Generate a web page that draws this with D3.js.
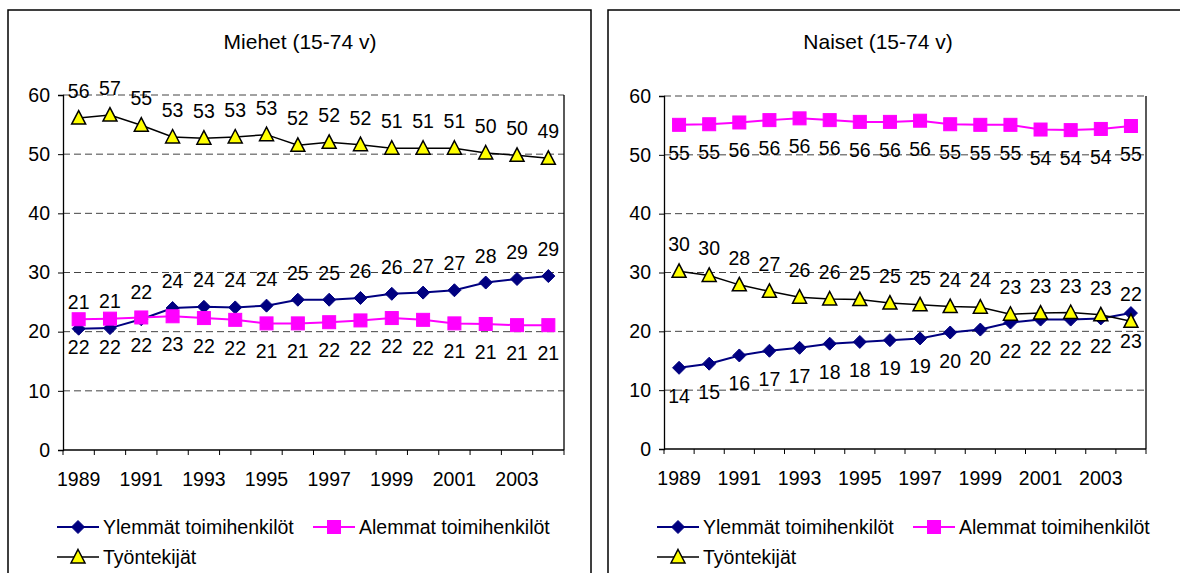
<!DOCTYPE html>
<html><head><meta charset="utf-8">
<script src="https://cdn.jsdelivr.net/npm/d3@7"></script>
<style>
html,body{margin:0;padding:0;background:#fff;}
svg{display:block;font-family:"Liberation Sans",Arial,sans-serif;}
</style></head>
<body>
<svg id="c" width="1180" height="573"></svg>
<script>
const years = [1989,1990,1991,1992,1993,1994,1995,1996,1997,1998,1999,2000,2001,2002,2003,2004];
const yearTickLabels = [1989,1991,1993,1995,1997,1999,2001,2003];
const yTicks = [0,10,20,30,40,50,60];
const seriesNames = ["Ylemmät toimihenkilöt","Alemmat toimihenkilöt","Työntekijät"];
const chartTitles = ["Miehet (15-74 v)","Naiset (15-74 v)"];

const menYlemmat = [20.5,20.6,22.1,24.0,24.2,24.1,24.4,25.4,25.4,25.7,26.4,26.6,27.0,28.3,28.9,29.4];
const menAlemmat = [22.1,22.2,22.4,22.6,22.3,22.0,21.4,21.4,21.6,21.9,22.3,22.0,21.4,21.3,21.1,21.1];
const menTyontekijat = [56.1,56.6,54.9,52.9,52.7,52.9,53.3,51.5,52.0,51.6,51.0,51.0,51.0,50.2,49.8,49.3];

const womenYlemmat = [13.8,14.5,15.9,16.7,17.2,17.9,18.2,18.5,18.8,19.8,20.3,21.5,22.0,22.0,22.2,23.1];
const womenAlemmat = [55.1,55.2,55.5,55.9,56.2,55.9,55.6,55.6,55.8,55.2,55.1,55.1,54.3,54.2,54.4,54.9];
const womenTyontekijat = [30.2,29.5,27.9,26.8,25.8,25.5,25.4,24.8,24.5,24.2,24.1,22.9,23.1,23.2,22.8,21.7];

const styles = [
  {color:"#000080", marker:"diamond", fill:"#000080", stroke:"#000080", width:2},
  {color:"#FF00FF", marker:"square", fill:"#FF00FF", stroke:"#FF00FF", width:2},
  {color:"#000000", marker:"triangle", fill:"#FFFF00", stroke:"#000000", width:1.5}
];

const FS = 19.5;
const svg = d3.select("#c");

function marker(g, type, x, y, st){
  if(type==="diamond"){
    g.append("path").attr("d",`M${x},${y-6.5}L${x+6.5},${y}L${x},${y+6.5}L${x-6.5},${y}Z`)
      .attr("fill",st.fill).attr("stroke",st.stroke).attr("stroke-width",1);
  } else if(type==="square"){
    g.append("rect").attr("x",x-6.5).attr("y",y-6.5).attr("width",13).attr("height",13)
      .attr("fill",st.fill).attr("stroke",st.stroke).attr("stroke-width",1);
  } else {
    g.append("path").attr("d",`M${x},${y-7.5}L${x+7},${y+6}L${x-7},${y+6}Z`)
      .attr("fill",st.fill).attr("stroke",st.stroke).attr("stroke-width",1.5).attr("stroke-linejoin","miter");
  }
}

function drawChart(cfg){
  const g = svg.append("g");
  g.append("rect").attr("x",cfg.panel[0]).attr("y",10).attr("width",cfg.panel[1]-cfg.panel[0]).attr("height",600)
    .attr("fill","none").attr("stroke","#000").attr("stroke-width",1.5);
  g.append("text").attr("x",cfg.titleX).attr("y",49)
    .attr("text-anchor","middle").attr("font-size",21).attr("fill","#000").text(cfg.title);

  const x = d3.scaleBand().domain(years).range([cfg.left,cfg.right]).padding(0);
  const y = d3.scaleLinear().domain([0,60]).range([cfg.bottom,cfg.top]);
  const cx = d => x(d)+x.bandwidth()/2;

  g.append("g").selectAll("line").data(yTicks.filter(t=>t>0)).join("line")
    .attr("x1",cfg.left).attr("x2",cfg.right).attr("y1",d=>y(d)).attr("y2",d=>y(d))
    .attr("stroke","#444").attr("stroke-width",1).attr("stroke-dasharray","7,4");
  g.append("line").attr("x1",cfg.right).attr("x2",cfg.right).attr("y1",cfg.top).attr("y2",cfg.bottom)
    .attr("stroke","#000").attr("stroke-width",1.3);

  const ya = g.append("g").attr("transform",`translate(${cfg.left},0)`)
    .call(d3.axisLeft(y).tickValues(yTicks).tickSize(5).tickPadding(8).tickFormat(d3.format("d")));
  ya.select(".domain").attr("stroke","#000").attr("stroke-width",1.3);
  ya.selectAll(".tick line").attr("stroke","#000");
  ya.selectAll("text").attr("font-size",FS).attr("font-family","Liberation Sans, Arial, sans-serif").attr("fill","#000");

  const xa = g.append("g").attr("transform",`translate(0,${cfg.bottom})`);
  xa.append("line").attr("x1",cfg.left).attr("x2",cfg.right).attr("y1",0).attr("y2",0)
    .attr("stroke","#000").attr("stroke-width",1.3);
  xa.selectAll("line.tk").data(d3.range(years.length+1)).join("line").attr("class","tk")
    .attr("x1",i=>cfg.left+i*x.bandwidth()).attr("x2",i=>cfg.left+i*x.bandwidth())
    .attr("y1",0).attr("y2",5).attr("stroke","#000").attr("stroke-width",1);
  xa.selectAll("text").data(yearTickLabels).join("text")
    .attr("x",d=>cx(d)).attr("y",36).attr("text-anchor","middle").attr("font-size",FS).attr("fill","#000")
    .text(d=>d);

  cfg.series.forEach((vals,si)=>{
    const st = styles[si];
    const data = years.map((yr,i)=>({yr,v:vals[i]}));
    g.append("path").datum(data)
      .attr("d",d3.line().x(d=>cx(d.yr)).y(d=>y(d.v)))
      .attr("fill","none").attr("stroke",st.color).attr("stroke-width",st.width);
  });
  cfg.series.forEach((vals,si)=>{
    const st = styles[si];
    const mg = g.append("g");
    years.forEach((yr,i)=>marker(mg,st.marker,cx(yr),y(vals[i]),st));
  });
  cfg.series.forEach((vals,si)=>{
    const above = cfg.labelPos[si]==="above";
    g.append("g").selectAll("text").data(years.map((yr,i)=>({yr,v:vals[i]}))).join("text")
      .attr("x",d=>cx(d.yr)).attr("y",d=>y(d.v)+(above?-20:35))
      .attr("text-anchor","middle").attr("font-size",FS).attr("fill","#000")
      .text(d=>Math.round(d.v));
  });

  const lg = g.append("g");
  const items = [
    {si:0,x:cfg.panel[0]+49,y:527},
    {si:1,x:cfg.panel[0]+305,y:527},
    {si:2,x:cfg.panel[0]+49,y:557}
  ];
  items.forEach(it=>{
    const st = styles[it.si];
    lg.append("line").attr("x1",it.x).attr("x2",it.x+42).attr("y1",it.y).attr("y2",it.y)
      .attr("stroke",st.color).attr("stroke-width",st.width);
    marker(lg,st.marker,it.x+21,it.y,st);
    lg.append("text").attr("x",it.x+46).attr("y",it.y+7).attr("font-size",FS).attr("fill","#000")
      .text(seriesNames[it.si]);
  });
}

drawChart({panel:[8,591], title:chartTitles[0], titleX:300, left:63, right:564, top:95, bottom:450,
  series:[menYlemmat,menAlemmat,menTyontekijat], labelPos:["above","below","above"]});
drawChart({panel:[608,1191], title:chartTitles[1], titleX:878, left:664, right:1146, top:96, bottom:449,
  series:[womenYlemmat,womenAlemmat,womenTyontekijat], labelPos:["below","below","above"]});
</script>
</body></html>
